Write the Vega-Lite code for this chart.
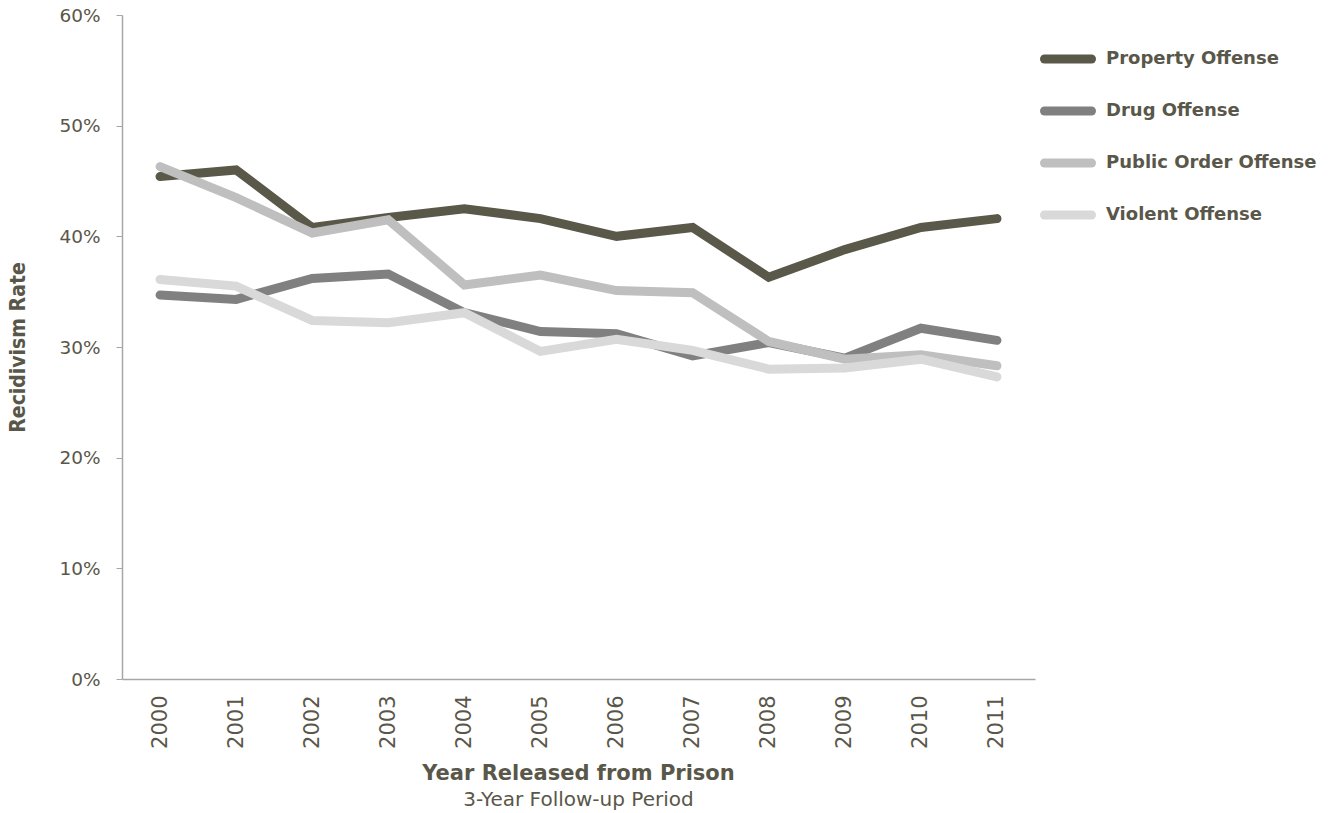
{
  "$schema": "https://vega.github.io/schema/vega-lite/v6.json",
  "width": 913,
  "height": 664,
  "autosize": "none",
  "padding": {"left": 122, "top": 15, "right": 299, "bottom": 134},
  "background": "white",
  "config": {"view": {"stroke": null}, "font": "DejaVu Sans"},
  "title": {
    "text": "Year Released from Prison",
    "subtitle": "3-Year Follow-up Period",
    "orient": "bottom",
    "anchor": "middle",
    "offset": 15,
    "font": "DejaVu Sans",
    "fontSize": 21,
    "fontWeight": "bold",
    "color": "#595749",
    "subtitleFont": "DejaVu Sans",
    "subtitleFontSize": 20,
    "subtitleColor": "#595749",
    "subtitlePadding": 6
  },
  "data": {
    "values": [
      {"year": "2000", "offense": "Property Offense", "rate": 0.454},
      {"year": "2001", "offense": "Property Offense", "rate": 0.460},
      {"year": "2002", "offense": "Property Offense", "rate": 0.408},
      {"year": "2003", "offense": "Property Offense", "rate": 0.417},
      {"year": "2004", "offense": "Property Offense", "rate": 0.425},
      {"year": "2005", "offense": "Property Offense", "rate": 0.416},
      {"year": "2006", "offense": "Property Offense", "rate": 0.400},
      {"year": "2007", "offense": "Property Offense", "rate": 0.408},
      {"year": "2008", "offense": "Property Offense", "rate": 0.363},
      {"year": "2009", "offense": "Property Offense", "rate": 0.388},
      {"year": "2010", "offense": "Property Offense", "rate": 0.408},
      {"year": "2011", "offense": "Property Offense", "rate": 0.416},
      {"year": "2000", "offense": "Drug Offense", "rate": 0.347},
      {"year": "2001", "offense": "Drug Offense", "rate": 0.343},
      {"year": "2002", "offense": "Drug Offense", "rate": 0.362},
      {"year": "2003", "offense": "Drug Offense", "rate": 0.366},
      {"year": "2004", "offense": "Drug Offense", "rate": 0.331},
      {"year": "2005", "offense": "Drug Offense", "rate": 0.314},
      {"year": "2006", "offense": "Drug Offense", "rate": 0.312},
      {"year": "2007", "offense": "Drug Offense", "rate": 0.292},
      {"year": "2008", "offense": "Drug Offense", "rate": 0.304},
      {"year": "2009", "offense": "Drug Offense", "rate": 0.290},
      {"year": "2010", "offense": "Drug Offense", "rate": 0.317},
      {"year": "2011", "offense": "Drug Offense", "rate": 0.306},
      {"year": "2000", "offense": "Public Order Offense", "rate": 0.463},
      {"year": "2001", "offense": "Public Order Offense", "rate": 0.435},
      {"year": "2002", "offense": "Public Order Offense", "rate": 0.403},
      {"year": "2003", "offense": "Public Order Offense", "rate": 0.415},
      {"year": "2004", "offense": "Public Order Offense", "rate": 0.356},
      {"year": "2005", "offense": "Public Order Offense", "rate": 0.365},
      {"year": "2006", "offense": "Public Order Offense", "rate": 0.351},
      {"year": "2007", "offense": "Public Order Offense", "rate": 0.349},
      {"year": "2008", "offense": "Public Order Offense", "rate": 0.305},
      {"year": "2009", "offense": "Public Order Offense", "rate": 0.289},
      {"year": "2010", "offense": "Public Order Offense", "rate": 0.293},
      {"year": "2011", "offense": "Public Order Offense", "rate": 0.283},
      {"year": "2000", "offense": "Violent Offense", "rate": 0.361},
      {"year": "2001", "offense": "Violent Offense", "rate": 0.355},
      {"year": "2002", "offense": "Violent Offense", "rate": 0.324},
      {"year": "2003", "offense": "Violent Offense", "rate": 0.322},
      {"year": "2004", "offense": "Violent Offense", "rate": 0.331},
      {"year": "2005", "offense": "Violent Offense", "rate": 0.296},
      {"year": "2006", "offense": "Violent Offense", "rate": 0.307},
      {"year": "2007", "offense": "Violent Offense", "rate": 0.297},
      {"year": "2008", "offense": "Violent Offense", "rate": 0.280},
      {"year": "2009", "offense": "Violent Offense", "rate": 0.281},
      {"year": "2010", "offense": "Violent Offense", "rate": 0.289},
      {"year": "2011", "offense": "Violent Offense", "rate": 0.273}
    ]
  },
  "mark": {"type": "line", "strokeWidth": 9, "strokeCap": "round"},
  "encoding": {
    "x": {
      "field": "year",
      "type": "ordinal",
      "scale": {"type": "point", "padding": 0.5},
      "axis": {
        "title": null,
        "labelAngle": -90,
        "labelFontSize": 21,
        "labelColor": "#595749",
        "labelPadding": 16,
        "ticks": false,
        "domainColor": "#a6a6a6",
        "domainWidth": 1.5
      }
    },
    "y": {
      "field": "rate",
      "type": "quantitative",
      "scale": {"domain": [0, 0.6], "nice": false},
      "axis": {
        "title": "Recidivism Rate",
        "titleFont": "DejaVu Sans Condensed",
        "titleFontSize": 21,
        "titleFontWeight": "bold",
        "titleColor": "#595749",
        "titlePadding": 30,
        "format": ".0%",
        "values": [0, 0.1, 0.2, 0.3, 0.4, 0.5, 0.6],
        "labelFontSize": 18.5,
        "labelColor": "#595749",
        "labelPadding": 16,
        "grid": false,
        "tickSize": 6,
        "tickColor": "#a6a6a6",
        "domainColor": "#a6a6a6",
        "domainWidth": 1.5
      }
    },
    "color": {
      "field": "offense",
      "type": "nominal",
      "scale": {
        "domain": ["Property Offense", "Drug Offense", "Public Order Offense", "Violent Offense"],
        "range": ["#5a5849", "#808080", "#bfbfbf", "#d9d9d9"]
      },
      "legend": {
        "title": null,
        "orient": "none",
        "legendX": 918,
        "legendY": 16,
        "symbolType": "stroke",
        "symbolSize": 2209,
        "symbolStrokeWidth": 9,
        "labelFontSize": 18,
        "labelFontWeight": "bold",
        "labelColor": "#595749",
        "labelOffset": 10,
        "rowPadding": 6,
        "labelLimit": 300,
        "encode": {"symbols": {"update": {"strokeCap": {"value": "round"}}}}
      }
    }
  }
}
